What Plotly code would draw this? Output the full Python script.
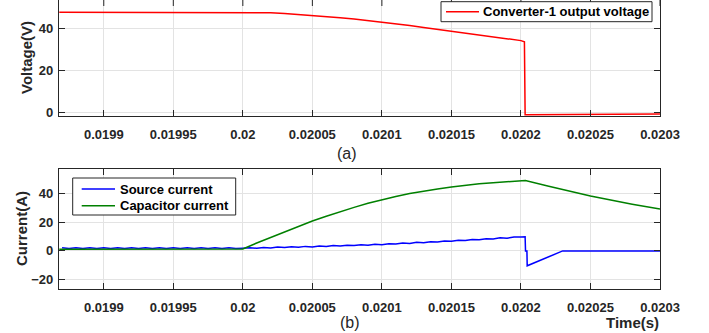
import plotly.graph_objects as go

# ---------------- data ----------------
v_time = [0.019868, 0.01999, 0.02, 0.020005, 0.02001, 0.020015, 0.02002, 0.02003, 0.02004, 0.02005, 0.02006,
          0.02007, 0.02008, 0.02009, 0.0201, 0.02011, 0.02012, 0.02013, 0.02014, 0.02015,
          0.02016, 0.02017, 0.02018, 0.02019, 0.0202, 0.0202025, 0.020203, 0.0203]
v_out = [48.0, 48.0, 48.0, 47.97, 47.9, 47.82, 47.7, 47.35, 46.9, 46.4, 45.9,
         45.3, 44.7, 44.0, 43.2, 42.4, 41.6, 40.7, 39.8, 38.9,
         38.0, 37.1, 36.2, 35.3, 34.4, 33.8, -1.0, -0.7]

s_time = [0.01987, 0.019875, 0.01988, 0.019885, 0.01989, 0.019895, 0.0199, 0.019905, 0.01991,
          0.019915, 0.01992, 0.019925, 0.01993, 0.019935, 0.01994, 0.019945, 0.01995, 0.019955,
          0.01996, 0.019965, 0.01997, 0.019975, 0.01998, 0.019985, 0.01999, 0.019995, 0.02,
          0.020005, 0.02001, 0.020015, 0.02002, 0.020025, 0.02003, 0.020035, 0.02004, 0.020045,
          0.02005, 0.020055, 0.02006, 0.020065, 0.02007, 0.020075, 0.02008, 0.020085, 0.02009,
          0.020095, 0.0201, 0.020105, 0.02011, 0.020115, 0.02012, 0.020125, 0.02013, 0.020135,
          0.02014, 0.020145, 0.02015, 0.020155, 0.02016, 0.020165, 0.02017, 0.020175, 0.02018,
          0.020185, 0.02019, 0.020195, 0.0202, 0.020203, 0.0202033, 0.0202043, 0.0202045,
          0.02023, 0.0203]
s_cur = [2.15, 1.65, 2.15, 1.65, 2.15, 1.65, 2.15, 1.65, 2.15,
         1.65, 2.15, 1.65, 2.15, 1.65, 2.15, 1.65, 2.15, 1.65,
         2.15, 1.65, 2.15, 1.65, 2.15, 1.65, 2.15, 1.65, 1.9,
         2.25, 1.85, 2.45, 2.05, 2.7, 2.3, 2.9, 2.5, 3.15,
         2.75, 3.4, 3.05, 3.7, 3.35, 4.0, 3.7, 4.35, 4.0,
         4.7, 4.35, 5.05, 4.75, 5.5, 5.2, 5.95, 5.65, 6.4,
         6.15, 6.9, 6.65, 7.4, 7.15, 7.95, 7.7, 8.5, 8.25,
         9.05, 8.8, 9.6, 9.6, 9.8, 0.0, 0.0, -10.3,
         0.0, 0.0]

c_time = [0.019868, 0.02, 0.02001, 0.02002, 0.02003, 0.02004, 0.02005, 0.02006, 0.02007,
          0.02008, 0.02009, 0.0201, 0.02011, 0.02012, 0.02013, 0.02014, 0.02015, 0.02016,
          0.02017, 0.02018, 0.02019, 0.0202, 0.0202032, 0.02022, 0.02025, 0.02028, 0.0203]
c_cur = [1.2, 1.3, 5.5, 9.4, 13.2, 17.0, 20.7, 24.0, 27.2,
         30.2, 33.0, 35.6, 37.8, 39.8, 41.5, 43.0, 44.3, 45.5,
         46.5, 47.3, 48.0, 48.6, 48.8, 44.9, 38.1, 32.4, 29.0]

x_ticks = [0.0199, 0.01995, 0.02, 0.02005, 0.0201, 0.02015, 0.0202, 0.02025, 0.0203]
x_labels = ["0.0199", "0.01995", "0.02", "0.02005", "0.0201", "0.02015", "0.0202", "0.02025", "0.0203"]
v_ticks = [0, 20, 40]
i_ticks = [-20, 0, 20, 40]

names = ["Converter-1 output voltage", "Source current", "Capacitor current"]
colors = ["#ff0000", "#0000ff", "#008000"]

# ---------------- layout constants ----------------
W, H = 709, 333
L, R, T, B = 59, 49, 0, 44
PW, PH = W - L - R, H - T - B
FONT = "Liberation Sans"
INK = "#262626"

def px(x):
    return (x - L) / PW

def py(y):
    return (T + PH - y) / PH

fig = go.Figure()
fig.add_trace(go.Scatter(x=v_time, y=v_out, mode="lines", name=names[0],
                         line=dict(color=colors[0], width=1.5), xaxis="x", yaxis="y"))
fig.add_trace(go.Scatter(x=s_time, y=s_cur, mode="lines", name=names[1],
                         line=dict(color=colors[1], width=1.5), xaxis="x2", yaxis="y2"))
fig.add_trace(go.Scatter(x=c_time, y=c_cur, mode="lines", name=names[2],
                         line=dict(color=colors[2], width=1.5), xaxis="x2", yaxis="y2"))

tickfont = dict(family=FONT, size=13, color=INK, weight="bold")
xrange_ = [0.0198678, 0.0203]
common_x = dict(range=xrange_, tickvals=x_ticks, ticktext=x_labels, ticks="inside", ticklen=6,
                tickcolor=INK, showline=True, linecolor=INK, linewidth=1.3,
                showgrid=True, gridcolor="#e3e3e3", gridwidth=1, zeroline=False,
                tickfont=tickfont, ticklabelstandoff=6)
common_y = dict(ticks="inside", ticklen=6, tickcolor=INK, showline=True, linecolor=INK,
                linewidth=1.3, showgrid=True, gridcolor="#e3e3e3", gridwidth=1, zeroline=False,
                tickfont=tickfont, ticklabelstandoff=2)

top_dom = [py(116), 1.0]
bot_dom = [0.0, py(169)]

fig.update_layout(
    width=W, height=H, margin=dict(l=L, r=R, t=T, b=B),
    paper_bgcolor="white", plot_bgcolor="white",
    xaxis=dict(common_x, anchor="y", domain=[0, 1], mirror=False),
    yaxis=dict(common_y, anchor="x", domain=top_dom, range=[-1.6, 53.8], tickvals=v_ticks, mirror="ticks"),
    xaxis2=dict(common_x, anchor="y2", domain=[0, 1], mirror="ticks"),
    yaxis2=dict(common_y, anchor="x2", domain=bot_dom, range=[-26.4, 56.8], tickvals=i_ticks, mirror="ticks"),
    showlegend=False,
)

# top mirror ticks for the upper panel (its top border lies outside the picture)
for t in x_ticks:
    fig.add_shape(type="line", xref="x", yref="y domain", x0=t, x1=t,
                  ysizemode="pixel", yanchor=1, y0=0, y1=-6,
                  line=dict(color=INK, width=1))

# ---------------- legends (drawn as boxes, sample lines and text) ----------------
leg_font = dict(family=FONT, size=13, color="black", weight="bold")

def legend_box(x0, y0, x1, y1, entries, line_x0, line_x1, text_x):
    fig.add_shape(type="rect", xref="paper", yref="paper", x0=px(x0), x1=px(x1),
                  y0=py(y1), y1=py(y0), fillcolor="white", line=dict(color=INK, width=1),
                  layer="above")
    for (name, color, yc) in entries:
        fig.add_shape(type="line", xref="paper", yref="paper", x0=px(line_x0), x1=px(line_x1),
                      y0=py(yc), y1=py(yc), line=dict(color=color, width=1.5), layer="above")
        fig.add_annotation(text=name, xref="paper", yref="paper", x=px(text_x), y=py(yc),
                           xanchor="left", yanchor="middle", showarrow=False, font=leg_font)

legend_box(441, 1.7, 652, 21.7, [(names[0], colors[0], 11.7)], 446, 479, 481)
legend_box(72.7, 178, 235.7, 215, [(names[1], colors[1], 189), (names[2], colors[2], 205.7)],
           81.7, 115, 117.5)

ann_font = dict(family=FONT, size=15, color=INK, weight="bold")
fig.add_annotation(text="Voltage(V)", xref="paper", yref="paper", x=px(27), y=py(58),
                   textangle=-90, showarrow=False, font=ann_font, xanchor="center", yanchor="middle")
fig.add_annotation(text="Current(A)", xref="paper", yref="paper", x=px(21), y=py(229),
                   textangle=-90, showarrow=False, font=ann_font, xanchor="center", yanchor="middle")
fig.add_annotation(text="Time(s)", xref="paper", yref="paper", x=px(632), y=py(322),
                   showarrow=False, font=ann_font, xanchor="center", yanchor="middle")
lab_font = dict(family=FONT, size=16, color=INK)
fig.add_annotation(text="(a)", xref="paper", yref="paper", x=px(347), y=py(153),
                   showarrow=False, font=lab_font, xanchor="center", yanchor="middle")
fig.add_annotation(text="(b)", xref="paper", yref="paper", x=px(350), y=py(322),
                   showarrow=False, font=lab_font, xanchor="center", yanchor="middle")

fig.write_html("out.html")
